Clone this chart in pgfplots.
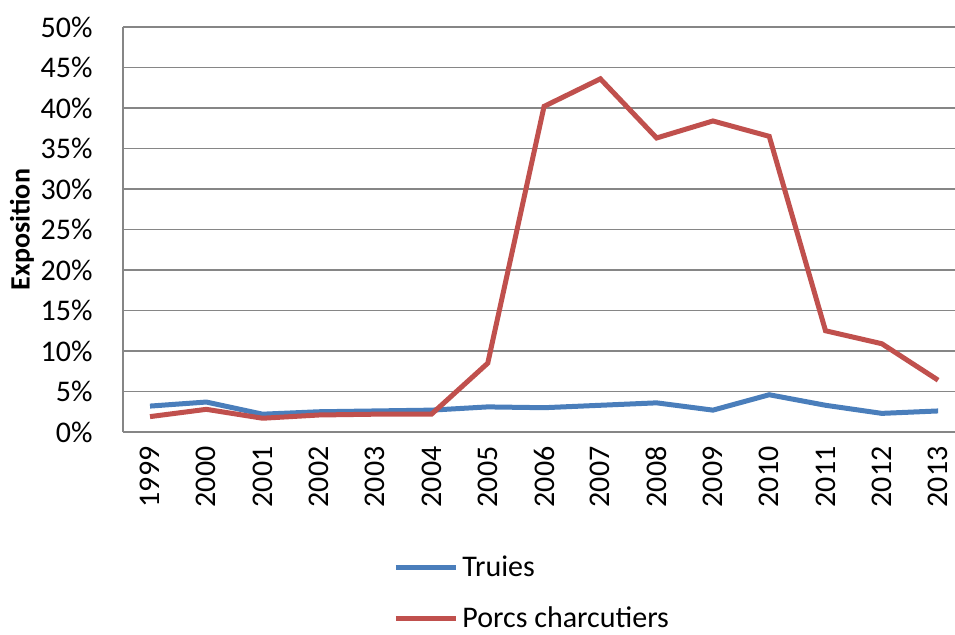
\documentclass[border=0pt]{standalone}
\usepackage{fontspec}
\setmainfont{Carlito}
\usepackage{pgfplots}
\pgfplotsset{compat=1.18}
\definecolor{truies}{RGB}{74,126,187}
\definecolor{porcs}{RGB}{192,80,77}
\definecolor{gridgray}{RGB}{134,134,134}
\begin{document}
\begin{tikzpicture}
\begin{axis}[
    at={(0,0)}, anchor=south west,
    scale only axis,
    width=416pt, height=202.5pt,
    xmin=1998.52, xmax=2013.3,
    ymin=0, ymax=50,
    xtick={1999,...,2013},
    xticklabel style={/pgf/number format/1000 sep={}},
    x tick label style={font=\fontsize{15}{18}\selectfont, yshift=-7pt, rotate=90, anchor=east, inner sep=0pt},
    ytick={0,5,...,50},
    yticklabel={\pgfmathprintnumber{\tick}\%},
    y tick label style={font=\fontsize{15}{18}\selectfont, xshift=-15pt, anchor=east, inner sep=0pt},
    /pgf/number format/assume math mode=true,
    major tick length=0pt,
    axis x line*=bottom, axis y line*=left,
    axis line style={draw=gridgray, line width=0.8pt},
    ymajorgrids=true,
    grid style={draw=gridgray, line width=0.8pt},
    ylabel={Exposition},
    ylabel style={at={(axis description cs:-0.1214,0.5)}, anchor=center, font=\fontsize{14}{17}\selectfont\bfseries},
    legend style={at={(0.493,-0.285)}, anchor=north, draw=none, fill=none,
        font=\fontsize{15}{18}\selectfont, row sep=9.5pt, legend cell align=left},
    legend image code/.code={\draw[#1] (0pt,0pt) -- (30pt,0pt);},
]
\addplot[truies, line width=2.5pt] coordinates {
    (1999,3.2) (2000,3.7) (2001,2.2) (2002,2.5) (2003,2.6) (2004,2.7)
    (2005,3.1) (2006,3.0) (2007,3.3) (2008,3.6) (2009,2.7) (2010,4.6)
    (2011,3.3) (2012,2.3) (2013,2.6)
};
\addlegendentry{Truies}
\addplot[porcs, line width=2.5pt] coordinates {
    (1999,1.9) (2000,2.8) (2001,1.7) (2002,2.1) (2003,2.2) (2004,2.2)
    (2005,8.5) (2006,40.2) (2007,43.6) (2008,36.3) (2009,38.4) (2010,36.5)
    (2011,12.5) (2012,10.9) (2013,6.4)
};
\addlegendentry{Porcs charcutiers}
\end{axis}
\pgfresetboundingbox
\path (-61.5pt,-101pt) rectangle (416pt,216pt);
\end{tikzpicture}
\end{document}
